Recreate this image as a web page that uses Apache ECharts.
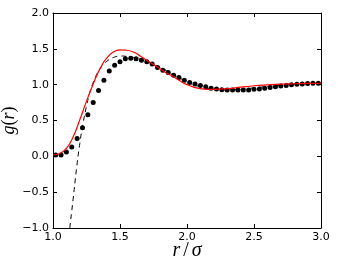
<!DOCTYPE html>
<html><head><meta charset="utf-8">
<script src="https://cdn.jsdelivr.net/npm/echarts@6/dist/echarts.min.js"></script>
<style>html,body{margin:0;padding:0;background:#fff}#c{width:338px;height:263px}</style>
</head><body><div id="c"></div>
<script>
const xTicks = [1.0, 1.5, 2.0, 2.5, 3.0];
const yTicks = [-1.0, -0.5, 0.0, 0.5, 1.0, 1.5, 2.0];
const dotR = [1.02,1.06,1.10,1.14,1.18,1.22,1.26,1.30,1.34,1.38,1.42,1.46,1.50,1.54,1.58,1.62,1.66,1.70,1.74,1.78,1.82,1.86,1.90,1.94,1.98,2.02,2.06,2.10,2.14,2.18,2.22,2.26,2.30,2.34,2.38,2.42,2.46,2.50,2.54,2.58,2.62,2.66,2.70,2.74,2.78,2.82,2.86,2.90,2.94,2.98];
const dotG = [0.02,0.02,0.06,0.13,0.25,0.40,0.58,0.75,0.92,1.06,1.19,1.27,1.32,1.36,1.37,1.36,1.34,1.32,1.29,1.24,1.20,1.17,1.13,1.10,1.06,1.03,1.01,0.99,0.97,0.95,0.94,0.93,0.925,0.925,0.925,0.925,0.925,0.935,0.94,0.95,0.96,0.97,0.98,0.99,1.00,1.005,1.01,1.015,1.02,1.02];
const redR = [1.00,1.05,1.10,1.15,1.20,1.25,1.30,1.35,1.40,1.45,1.50,1.55,1.60,1.65,1.70,1.75,1.80,1.85,1.90,1.95,2.00,2.05,2.10,2.15,2.20,2.30,2.40,2.50,2.60,2.70,2.80,2.90,3.00];
const redG = [0.02,0.04,0.11,0.27,0.51,0.77,1.01,1.22,1.37,1.455,1.485,1.48,1.455,1.40,1.34,1.28,1.22,1.16,1.11,1.05,1.00,0.965,0.945,0.935,0.935,0.945,0.965,0.985,0.998,1.008,1.013,1.017,1.02];
const dashR = [1.125,1.15,1.175,1.20,1.225,1.25,1.275,1.30,1.325,1.35,1.38,1.42,1.46,1.50,1.55,1.60,1.65,1.70,1.80,1.90,2.00,2.10,2.20,2.30,2.40,2.50,2.60,2.70,2.80,2.90,3.00];
const dashG = [-1.0,-0.60,-0.18,0.18,0.47,0.70,0.89,1.03,1.14,1.22,1.29,1.35,1.385,1.40,1.395,1.38,1.355,1.32,1.24,1.14,1.04,0.97,0.935,0.925,0.935,0.955,0.975,0.995,1.01,1.015,1.02];

const zip = (a, b) => a.map((v, i) => [v, b[i]]);
const fmt = v => v.toFixed(1).replace('-', '\u2212');
const axisCommon = {
  axisLine: { show: true, onZero: false, lineStyle: { color: '#000', width: 1 } },
  axisTick: { show: true, inside: true, length: 4, lineStyle: { color: '#000' } },
  splitLine: { show: false }
};
const serifI = { fontFamily: 'Liberation Serif', fontStyle: 'italic', color: '#000' };
const serifN = { fontFamily: 'Liberation Serif', color: '#000' };
const chart = echarts.init(document.getElementById('c'), null, { renderer: 'canvas' });
chart.setOption({
  animation: false,
  backgroundColor: '#fff',
  grid: { left: 53, right: 17, top: 13, bottom: 35, containLabel: false, outerBoundsMode: 'none' },
  xAxis: [
    Object.assign({
      type: 'value', min: xTicks[0], max: xTicks[xTicks.length - 1], interval: 0.5, position: 'bottom',
      axisLabel: { formatter: fmt, color: '#000', fontFamily: 'DejaVu Sans', fontSize: 11, margin: 4 },
      name: '{i|r}{s|/}{i|σ}', nameLocation: 'middle', nameGap: 13, nameMoveOverlap: false,
      nameTextStyle: { color: '#000', rich: {
        i: Object.assign({ fontSize: 20 }, serifI),
        s: Object.assign({ fontSize: 20, padding: [0, 3, 0, 3] }, serifN) } }
    }, axisCommon),
    Object.assign({
      type: 'value', min: 1, max: 3, interval: 0.5, position: 'top', axisLabel: { show: false }
    }, axisCommon)
  ],
  yAxis: [
    Object.assign({
      type: 'value', min: yTicks[0], max: yTicks[yTicks.length - 1], interval: 0.5, position: 'left',
      axisLabel: { formatter: fmt, color: '#000', fontFamily: 'DejaVu Sans', fontSize: 11, margin: 4 },
      name: '{i|g}{n|(}{i|r}{n|)}', nameLocation: 'middle', nameGap: 35, nameMoveOverlap: false,
      nameTextStyle: { color: '#000', rich: {
        i: Object.assign({ fontSize: 18 }, serifI),
        n: Object.assign({ fontSize: 18 }, serifN) } }
    }, axisCommon),
    Object.assign({
      type: 'value', min: -1, max: 2, interval: 0.5, position: 'right', axisLabel: { show: false }
    }, axisCommon)
  ],
  series: [
    { type: 'line', data: zip(dashR, dashG), smooth: 0.5, showSymbol: false, clip: true,
      lineStyle: { color: '#000', width: 1, type: [5, 4] }, z: 2 },
    { type: 'scatter', data: zip(dotR, dotG), symbol: 'circle', symbolSize: 5,
      itemStyle: { color: '#000', opacity: 1 }, z: 3 },
    { type: 'line', data: zip(redR, redG), smooth: 0.5, showSymbol: false, clip: true,
      lineStyle: { color: '#ff0000', width: 1.2 }, z: 4 }
  ]
});
</script></body></html>
